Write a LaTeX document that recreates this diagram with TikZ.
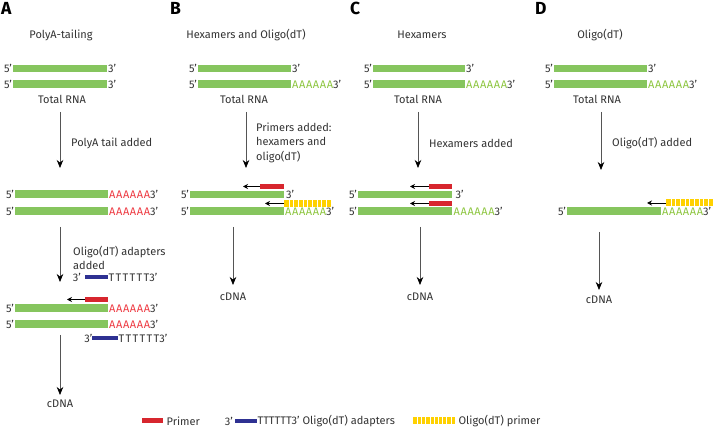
\documentclass[tikz,border=0pt]{standalone}
\usepackage{fontspec}
\setmainfont{Fira Sans}
\newfontfamily\seqAfont[LetterSpace=6]{Fira Sans}
\newfontfamily\seqTfont[LetterSpace=12]{Fira Sans}
\usetikzlibrary{arrows.meta,calc}
\definecolor{rnagreen}{HTML}{86C55E}
\definecolor{primerred}{HTML}{D7262E}
\definecolor{adaptblue}{HTML}{2E3192}
\definecolor{oligoyellow}{HTML}{FFD100}
\definecolor{polyared}{HTML}{EE3B43}
\definecolor{polyagreen}{HTML}{8DC63F}
\definecolor{txt}{HTML}{333333}
\definecolor{flowgray}{HTML}{555555}
\tikzset{
  gbar/.style={fill=rnagreen, draw=none, minimum height=7.5pt, inner sep=0pt, anchor=west},
  rbar/.style={fill=primerred, draw=none, minimum height=5pt, inner sep=0pt, anchor=west},
  bbar/.style={fill=adaptblue, draw=none, minimum height=4.5pt, inner sep=0pt, anchor=west},
  ybar/.style={fill=oligoyellow, draw=none, minimum height=7pt, inner sep=0pt, anchor=west,
    path picture={\foreach \k in {1,...,9}{\draw[white, line width=0.7pt]
      ($(path picture bounding box.south west)!\k/10!(path picture bounding box.south east)$) -- ++(0,-10);}}},
  lbl/.style={font=\fontsize{11}{14.5}\selectfont, text=txt, inner sep=0pt},
  seq/.style={font=\fontsize{11}{12}\selectfont, text=txt, inner sep=0pt},
  panel/.style={font=\fontsize{17.5}{18}\selectfont\bfseries, text=black, inner sep=0pt, anchor=base west},
  flow/.style={draw=flowgray, line width=0.8pt, -{Stealth[length=8pt,width=6.5pt,color=black]}},
  primarrow/.style={draw=black, line width=0.9pt, -{Stealth[length=5pt,width=5pt]}},
}
\newcommand{\pA}{\textcolor{polyared}{\seqAfont AAAAAA}}
\newcommand{\gA}{\textcolor{polyagreen}{\seqAfont AAAAAA}}
\newcommand{\tT}{{\seqTfont TTTTTT}}
\begin{document}
\begin{tikzpicture}[x=1pt,y=-1pt]
\useasboundingbox (0,0) rectangle (713,427);
\fill[white] (0,0) rectangle (713,427);

% ---------- Panel A ----------
\node[panel] (pa) at (1,15) {A};
\node[lbl] (ta) at (61,35) {PolyA-tailing};
\node[gbar, minimum width=94pt] (a1) at (13,68.5) {};
\node[seq, anchor=east] (a1l) at ([xshift=-1pt]a1.west) {5’};
\node[seq, anchor=west] (a1r) at ([xshift=0.5pt]a1.east) {3’};
\node[gbar, minimum width=94pt] (a2) at (13,84) {};
\node[seq, anchor=east] (a2l) at ([xshift=-1pt]a2.west) {5’};
\node[seq, anchor=west] (a2r) at ([xshift=0.5pt]a2.east) {3’};
\node[lbl] (arna) at (62,99) {Total RNA};
\coordinate (af1s) at (60,112); \coordinate (af1e) at (60,168);
\draw[flow] (af1s) -- (af1e);
\node[lbl, anchor=west] (astep1) at (71,143) {PolyA tail added};
\node[gbar, minimum width=93pt] (a3) at (15,194) {};
\node[seq, anchor=east] (a3l) at ([xshift=-1pt]a3.west) {5’};
\node[seq, anchor=west] (a3r) at ([xshift=0.5pt]a3.east) {\pA3’};
\node[gbar, minimum width=93pt] (a4) at (15,211) {};
\node[seq, anchor=east] (a4l) at ([xshift=-1pt]a4.west) {5’};
\node[seq, anchor=west] (a4r) at ([xshift=0.5pt]a4.east) {\pA3’};
\coordinate (af2s) at (60,227); \coordinate (af2e) at (60,282);
\draw[flow] (af2s) -- (af2e);
\node[lbl, anchor=west, align=left] (astep2) at (73,258) {Oligo(dT) adapters\\added};
\node[bbar, minimum width=23pt] (ad1) at (85,277) {};
\node[seq, anchor=east] (ad1l) at ([xshift=-4pt]ad1.west) {3’};
\node[seq, anchor=west] (ad1r) at (ad1.east) {\tT3’};
\node[rbar, minimum width=23pt] (pr1) at (85,299.5) {};
\coordinate (pr1e) at (67,299.5);
\draw[primarrow] (pr1.west) -- (pr1e);
\node[gbar, minimum width=93pt] (a5) at (15,308) {};
\node[seq, anchor=east] (a5l) at ([xshift=-1pt]a5.west) {5’};
\node[seq, anchor=west] (a5r) at ([xshift=0.5pt]a5.east) {\pA3’};
\node[gbar, minimum width=93pt] (a6) at (15,324) {};
\node[seq, anchor=east] (a6l) at ([xshift=-1pt]a6.west) {5’};
\node[seq, anchor=west] (a6r) at ([xshift=0.5pt]a6.east) {\pA3’};
\node[bbar, minimum width=26pt] (ad2) at (92,338) {};
\node[seq, anchor=east] (ad2l) at ([xshift=0.5pt]ad2.west) {3’};
\node[seq, anchor=west] (ad2r) at (ad2.east) {\tT3’};
\coordinate (af3s) at (60,335); \coordinate (af3e) at (60,395);
\draw[flow] (af3s) -- (af3e);
\node[lbl] (acdna) at (60,404) {cDNA};

% ---------- Panel B ----------
\node[panel] (pb) at (170,15) {B};
\node[lbl] (tb) at (246,35) {Hexamers and Oligo(dT)};
\node[gbar, minimum width=93pt] (b1) at (198,68.5) {};
\node[seq, anchor=east] (b1l) at ([xshift=-1pt]b1.west) {5’};
\node[seq, anchor=west] (b1r) at ([xshift=0.5pt]b1.east) {3’};
\node[gbar, minimum width=93pt] (b2) at (198,84) {};
\node[seq, anchor=east] (b2l) at ([xshift=-1pt]b2.west) {5’};
\node[seq, anchor=west] (b2r) at ([xshift=0.5pt]b2.east) {\gA3’};
\node[lbl] (brna) at (244,99) {Total RNA};
\coordinate (bf1s) at (246,112); \coordinate (bf1e) at (246,168);
\draw[flow] (bf1s) -- (bf1e);
\node[lbl, anchor=west, align=left] (bstep1) at (256,142.5) {Primers added:\\hexamers and\\oligo(dT)};
\node[rbar, minimum width=24pt] (bpr) at (260,186.5) {};
\coordinate (bpre) at (243,186.5);
\draw[primarrow] (bpr.west) -- (bpre);
\node[gbar, minimum width=94pt] (b3) at (190,194.5) {};
\node[seq, anchor=east] (b3l) at ([xshift=-1pt]b3.west) {5’};
\node[seq, anchor=west] (b3r) at ([xshift=1.5pt]b3.east) {3’};
\node[ybar, minimum width=47pt] (boy) at (284,203.5) {};
\coordinate (boye) at (265,203.5);
\draw[primarrow] (boy.west) -- (boye);
\node[gbar, minimum width=94pt] (b4) at (190,211) {};
\node[seq, anchor=east] (b4l) at ([xshift=-1pt]b4.west) {5’};
\node[seq, anchor=west] (b4r) at ([xshift=0.5pt]b4.east) {\gA3’};
\coordinate (bf2s) at (233,227); \coordinate (bf2e) at (233,285);
\draw[flow] (bf2s) -- (bf2e);
\node[lbl] (bcdna) at (233,297) {cDNA};

% ---------- Panel C ----------
\node[panel] (pc) at (350,15) {C};
\node[lbl] (tc) at (422,35) {Hexamers};
\node[gbar, minimum width=92pt] (c1) at (373,68.5) {};
\node[seq, anchor=east] (c1l) at ([xshift=-1pt]c1.west) {5’};
\node[seq, anchor=west] (c1r) at ([xshift=0.5pt]c1.east) {3’};
\node[gbar, minimum width=92pt] (c2) at (373,84) {};
\node[seq, anchor=east] (c2l) at ([xshift=-1pt]c2.west) {5’};
\node[seq, anchor=west] (c2r) at ([xshift=0.5pt]c2.east) {\gA3’};
\node[lbl] (crna) at (418,99) {Total RNA};
\coordinate (cf1s) at (418,112); \coordinate (cf1e) at (418,168);
\draw[flow] (cf1s) -- (cf1e);
\node[lbl, anchor=west] (cstep1) at (429,143) {Hexamers added};
\node[rbar, minimum width=23pt] (cpr1) at (429,186.5) {};
\coordinate (cpr1e) at (410,186.5);
\draw[primarrow] (cpr1.west) -- (cpr1e);
\node[gbar, minimum width=94pt] (c3) at (358,194.5) {};
\node[seq, anchor=east] (c3l) at ([xshift=-1pt]c3.west) {5’};
\node[seq, anchor=west] (c3r) at ([xshift=3pt]c3.east) {3’};
\node[rbar, minimum width=23pt] (cpr2) at (429,203.5) {};
\coordinate (cpr2e) at (410,203.5);
\draw[primarrow] (cpr2.west) -- (cpr2e);
\node[gbar, minimum width=94pt] (c4) at (358,211) {};
\node[seq, anchor=east] (c4l) at ([xshift=-1pt]c4.west) {5’};
\node[seq, anchor=west] (c4r) at ([xshift=1pt]c4.east) {\gA3’};
\coordinate (cf2s) at (420,227); \coordinate (cf2e) at (420,285);
\draw[flow] (cf2s) -- (cf2e);
\node[lbl] (ccdna) at (420,297) {cDNA};

% ---------- Panel D ----------
\node[panel] (pd) at (535,15) {D};
\node[lbl] (td) at (600,35) {Oligo(dT)};
\node[gbar, minimum width=93pt] (d1) at (554,68.5) {};
\node[seq, anchor=east] (d1l) at ([xshift=-1pt]d1.west) {5’};
\node[seq, anchor=west] (d1r) at ([xshift=0.5pt]d1.east) {3’};
\node[gbar, minimum width=93pt] (d2) at (554,84) {};
\node[seq, anchor=east] (d2l) at ([xshift=-1pt]d2.west) {5’};
\node[seq, anchor=west] (d2r) at ([xshift=0.5pt]d2.east) {\gA3’};
\node[lbl] (drna) at (597,99) {Total RNA};
\coordinate (df1s) at (601,112); \coordinate (df1e) at (601,170);
\draw[flow] (df1s) -- (df1e);
\node[lbl, anchor=west] (dstep1) at (612,143) {Oligo(dT) added};
\node[ybar, minimum width=47pt] (doy) at (666,203) {};
\coordinate (doye) at (647,203);
\draw[primarrow] (doy.west) -- (doye);
\node[gbar, minimum width=94pt] (d3) at (567,211) {};
\node[seq, anchor=east] (d3l) at ([xshift=-1pt]d3.west) {5’};
\node[seq, anchor=west] (d3r) at ([xshift=0.5pt]d3.east) {\gA3’};
\coordinate (df2s) at (599,232); \coordinate (df2e) at (599,290);
\draw[flow] (df2s) -- (df2e);
\node[lbl] (dcdna) at (599,300) {cDNA};

% ---------- Legend ----------
\node[rbar, minimum width=21pt] (lgr) at (142,421) {};
\node[lbl, anchor=west] (lgrt) at ([xshift=3pt]lgr.east) {Primer};
\node[bbar, minimum width=22pt] (lgb) at (235,421) {};
\node[seq, anchor=east] (lgbl) at ([xshift=-2pt]lgb.west) {3’};
\node[lbl, anchor=west] (lgbt) at (lgb.east) {TTTTTT3’ Oligo(dT) adapters};
\node[ybar, minimum width=42pt] (lgy) at (413,421) {};
\node[lbl, anchor=west] (lgyt) at ([xshift=3pt]lgy.east) {Oligo(dT) primer};
\end{tikzpicture}
\end{document}
